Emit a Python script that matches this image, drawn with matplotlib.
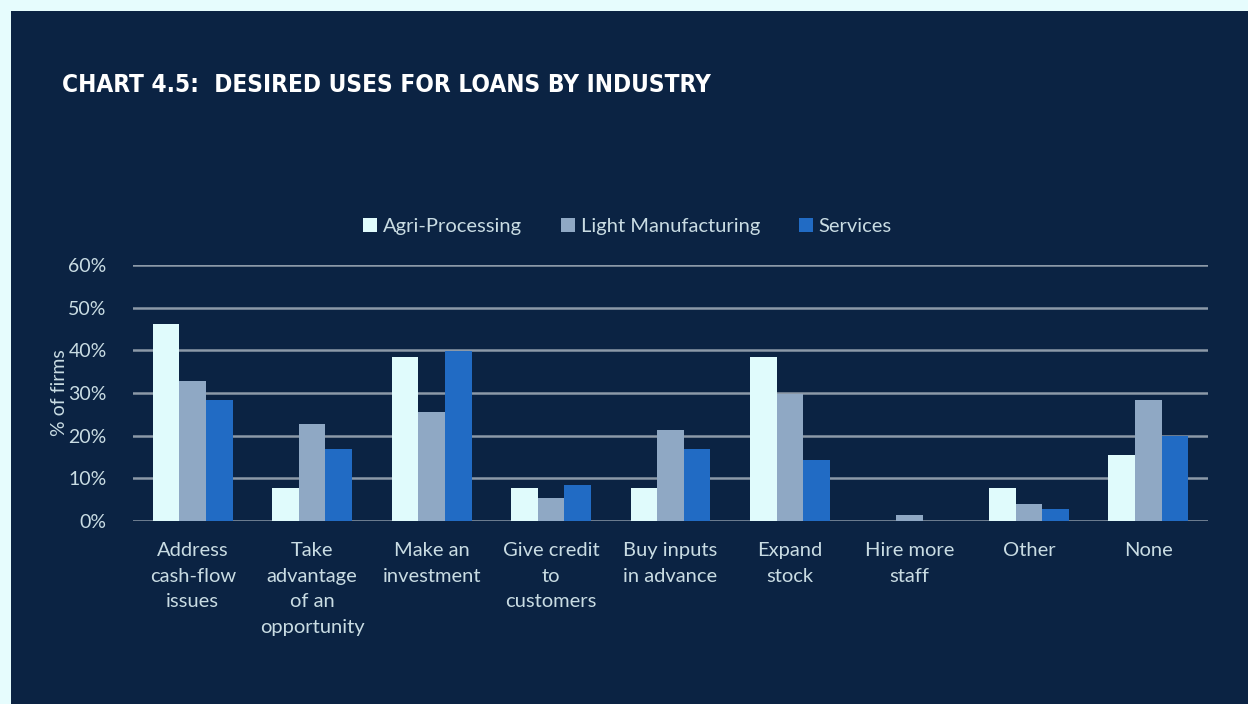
import matplotlib.pyplot as plt
import numpy as np
from matplotlib.patches import Rectangle
from matplotlib.ticker import FuncFormatter

# share of firms (%) wanting a loan for each purpose, by industry
categories = [
    "Address\ncash-flow\nissues",
    "Take\nadvantage\nof an\nopportunity",
    "Make an\ninvestment",
    "Give credit\nto\ncustomers",
    "Buy inputs\nin advance",
    "Expand\nstock",
    "Hire more\nstaff",
    "Other",
    "None",
]
industries = ["Agri-Processing", "Light Manufacturing", "Services"]
agri     = [46.2, 7.7, 38.5, 7.7, 7.7, 38.5, 0.0, 7.7, 15.4]
light    = [32.7, 22.7, 25.5, 5.5, 21.4, 29.8, 1.3, 4.1, 28.4]
services = [28.4, 16.9, 39.8, 8.5, 16.9, 14.2, 0.0, 2.7, 20.0]
y_ticks  = [0, 10, 20, 30, 40, 50, 60]

NAVY   = "#0b2343"
BORDER = "#e6fcfd"
COLORS = ["#e0fbfc", "#8fa8c4", "#216bc4"]
GRID   = "#8c99a8"
TEXT   = "#c9dce3"
FONT   = "Lato"

fig = plt.figure(figsize=(12.48, 7.04), dpi=100)
fig.patch.set_facecolor(BORDER)
fig.patches.append(Rectangle((11 / 1248, 0), 1, 1 - 11 / 704, transform=fig.transFigure,
                             facecolor=NAVY, edgecolor="none", zorder=-5))

fig.text(62 / 1248, 1 - 92 / 704, "CHART 4.5:  DESIRED USES FOR LOANS BY INDUSTRY",
         color="white", fontsize=17.5, fontweight="bold", family="DejaVu Sans",
         fontstretch="condensed", ha="left", va="baseline")

ax = fig.add_axes([133 / 1248, 1 - 521 / 704, (1208 - 133) / 1248, (521 - 265) / 704])
ax.set_facecolor("none")

x = np.arange(len(categories))
width = 0.223
for i, (vals, name) in enumerate(zip([agri, light, services], industries)):
    ax.bar(x + (i - 1) * width, vals, width, color=COLORS[i], label=name, zorder=3)

ax.set_xlim(-0.5, len(categories) - 0.5)
ax.set_ylim(0, 60)
ax.set_yticks(y_ticks)
ax.yaxis.set_major_formatter(FuncFormatter(lambda v, _: f"{v:.0f}%"))
ax.grid(axis="y", color=GRID, linewidth=1.8, zorder=1)
ax.set_axisbelow(True)
for s in ax.spines.values():
    s.set_visible(False)
ax.tick_params(length=0, colors=TEXT, labelsize=14)
ax.tick_params(axis="y", pad=19)
ax.tick_params(axis="x", pad=15)
ax.set_xticks(x)
ax.set_xticklabels(categories, linespacing=1.62, fontsize=14.5, family=FONT, va="top")
for lbl in ax.get_yticklabels():
    lbl.set_family(FONT)
ax.set_ylabel("% of firms", color=TEXT, fontsize=14, family=FONT, labelpad=0)

leg = ax.legend(loc="lower center", bbox_to_anchor=(0.46, 1.045), ncol=3, frameon=False,
                handlelength=0.7, handleheight=0.7, handletextpad=0.3, columnspacing=1.9,
                prop={"family": FONT, "size": 14.5})
for t in leg.get_texts():
    t.set_color(TEXT)

fig.savefig("out.png", dpi=100, facecolor=fig.get_facecolor())
